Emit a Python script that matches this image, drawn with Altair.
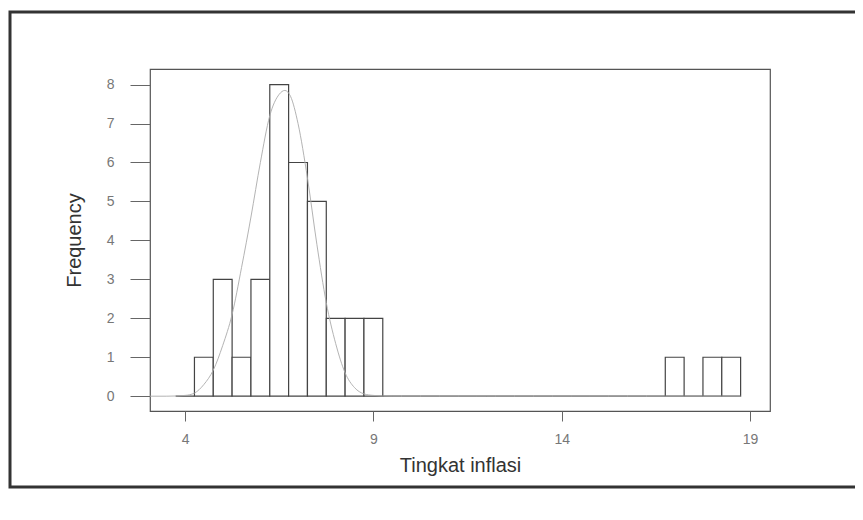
import altair as alt
import pandas as pd

# Histogram bins (centers, width 0.5) and frequencies
bin_centers = [4.0, 4.5, 5.0, 5.5, 6.0, 6.5, 7.0, 7.5, 8.0, 8.5, 9.0,
               9.5, 10.0, 10.5, 11.0, 11.5, 12.0, 12.5, 13.0, 13.5, 14.0,
               14.5, 15.0, 15.5, 16.0, 16.5, 17.0, 17.5, 18.0, 18.5]
counts = [0, 1, 3, 1, 3, 8, 6, 5, 2, 2, 2,
          0, 0, 0, 0, 0, 0, 0, 0, 0, 0,
          0, 0, 0, 0, 0, 1, 0, 1, 1]
bin_width = 0.5

# Fitted curve
curve_x = [3.07, 3.5, 4.0, 4.25, 4.5, 4.75, 5.0, 5.25, 5.5, 5.75, 6.0, 6.25,
           6.5, 6.65, 6.8, 7.0, 7.25, 7.5, 7.75, 8.0, 8.25, 8.5, 8.75,
           9.0, 9.5, 12.0, 18.75]
curve_y = [0.0, 0.0, 0.02, 0.08, 0.3, 0.67, 1.3, 2.1, 3.3, 4.6, 6.0, 7.2,
           7.75, 7.85, 7.7, 7.0, 5.6, 3.9, 2.4, 1.35, 0.6, 0.22, 0.06,
           0.02, 0.0, 0.0, 0.0]

x_ticks = [4, 9, 14, 19]
y_ticks = [0, 1, 2, 3, 4, 5, 6, 7, 8]

bars = pd.DataFrame({
    "lo": [c - bin_width / 2 for c in bin_centers],
    "hi": [c + bin_width / 2 for c in bin_centers],
    "count": counts,
})
curve = pd.DataFrame({"x": curve_x, "y": curve_y})

xscale = alt.Scale(domain=[3.07, 19.53], nice=False, zero=False)
yscale = alt.Scale(domain=[-0.38, 8.4], nice=False, zero=False)

FONT = "Liberation Sans"

xaxis = alt.Axis(values=x_ticks, title="Tingkat inflasi", domain=False, grid=False,
                 tickSize=10, tickColor="#666", labelColor="#777", labelFontSize=14,
                 labelPadding=11, titleFontSize=20, titleColor="#333",
                 titleFontWeight="normal", titlePadding=9, labelFont=FONT, titleFont=FONT)
yaxis = alt.Axis(values=y_ticks, title="Frequency", domain=False, grid=False,
                 tickSize=20, tickColor="#666", labelColor="#777", labelFontSize=14,
                 labelPadding=16, titleFontSize=20, titleColor="#333",
                 titleFontWeight="normal", titlePadding=22, labelFont=FONT, titleFont=FONT)

hist = alt.Chart(bars).mark_rect(fill="white", stroke="#444", strokeWidth=1.2).encode(
    x=alt.X("lo:Q", scale=xscale, axis=xaxis),
    x2="hi:Q",
    y=alt.Y("count:Q", scale=yscale, axis=yaxis),
    y2=alt.datum(0),
)

line = alt.Chart(curve).mark_line(color="#aaa", strokeWidth=0.9, interpolate="monotone").encode(
    x=alt.X("x:Q", scale=xscale),
    y=alt.Y("y:Q", scale=yscale),
)

frame = alt.Chart(pd.DataFrame({"a": [0]})).mark_rect(
    fill="transparent", stroke="#333", strokeWidth=3
).encode(
    x=alt.value(-140), x2=alt.value(740), y=alt.value(-57), y2=alt.value(418)
)

chart = alt.layer(frame, hist, line).properties(
    width=620, height=342,
    autosize=alt.AutoSizeParams(type="none"),
    padding={"left": 142, "top": 61, "right": 85, "bottom": 100},
    background="white",
).configure_view(stroke="#555", strokeWidth=1.2)

chart.save("out.html", embed_options={"renderer": "svg", "actions": False})
